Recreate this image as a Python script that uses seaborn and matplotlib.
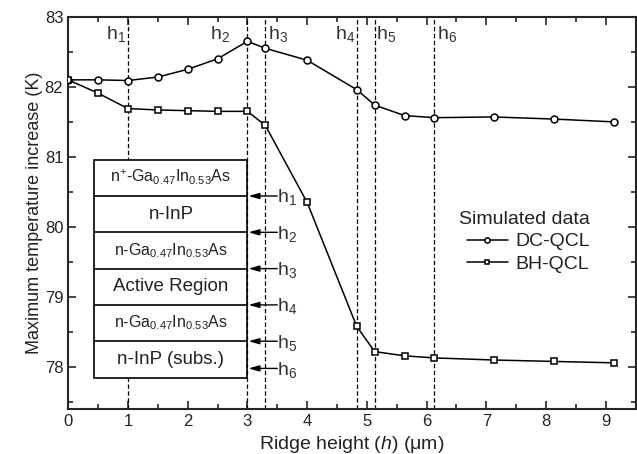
import numpy as np
import pandas as pd
import matplotlib
matplotlib.use("Agg")
import matplotlib.pyplot as plt
import seaborn as sns

# ---- data ----
ridge_height = [0, 0.5, 1.0, 1.5, 2.0, 2.5, 3.0, 3.3, 4.0, 4.83, 5.13, 5.63, 6.13, 7.13, 8.13, 9.13]
dc_qcl = [82.10, 82.10, 82.09, 82.14, 82.25, 82.40, 82.65, 82.55, 82.38, 81.96, 81.74, 81.59, 81.56, 81.57, 81.54, 81.50]
bh_qcl = [82.10, 81.91, 81.69, 81.67, 81.66, 81.65, 81.65, 81.45, 80.35, 78.58, 78.22, 78.16, 78.13, 78.10, 78.08, 78.06]
h_positions = [1.0, 3.0, 3.3, 4.83, 5.13, 6.13]
h_labels = ["h$_1$", "h$_2$", "h$_3$", "h$_4$", "h$_5$", "h$_6$"]
layer_names = ["n$^{+}$-Ga$_{0.47}$In$_{0.53}$As", "n-InP", "n-Ga$_{0.47}$In$_{0.53}$As",
               "Active Region", "n-Ga$_{0.47}$In$_{0.53}$As", "n-InP (subs.)"]
series_names = ["DC-QCL", "BH-QCL"]

sns.set_style("ticks")
plt.rcParams['font.family'] = ['Liberation Sans', 'DejaVu Sans']
plt.rcParams['mathtext.fontset'] = 'custom'
plt.rcParams['mathtext.rm'] = 'Liberation Sans'
plt.rcParams['mathtext.it'] = 'Liberation Sans:italic'

fig = plt.figure(figsize=(6.37, 4.54), dpi=100)
ax = fig.add_axes([0.107, 0.099, 0.891, 0.864])

df = pd.DataFrame({"h": ridge_height * 2,
                   "T": dc_qcl + bh_qcl,
                   "s": [series_names[0]] * len(ridge_height) + [series_names[1]] * len(ridge_height)})

sns.lineplot(data=df[df.s == series_names[0]], x="h", y="T", ax=ax, color="black", lw=1.1,
             marker="o", markersize=5, markerfacecolor="white", markeredgecolor="black",
             markeredgewidth=1.1, label=series_names[0], zorder=4)
sns.lineplot(data=df[df.s == series_names[1]], x="h", y="T", ax=ax, color="black", lw=1.1,
             marker="s", markersize=4.5, markerfacecolor="white", markeredgecolor="black",
             markeredgewidth=1.1, label=series_names[1], zorder=4)

ax.set_xlim(0, 9.5)
ax.set_ylim(77.4, 83)

# vertical dashed lines and labels
label_off = [-0.36, -0.62, 0.04, -0.36, 0.03, 0.04]
for hp, lab, off in zip(h_positions, h_labels, label_off):
    ax.axvline(hp, color="black", lw=0.9, ls=(0, (3.5, 2)), zorder=1)
    ax.text(hp + off, 82.76, lab, fontsize=14, ha="left", va="center", color="#333333")

# inset layer stack
x0, x1 = 0.44, 3.0
ytop, ybot = 80.96, 77.85
n = len(layer_names)
step = (ytop - ybot) / n
ax.add_patch(plt.Rectangle((x0, ybot), x1 - x0, ytop - ybot, facecolor="white",
                           edgecolor="black", lw=1.2, zorder=2))
for i, name in enumerate(layer_names):
    yc = ytop - (i + 0.5) * step
    fs = 13.5 if "Ga" not in name else 11.5
    ax.text((x0 + x1) / 2, yc, name, ha="center", va="center", fontsize=fs, color="#222222", zorder=3)
    if i < n - 1:
        yl = ytop - (i + 1) * step
        ax.plot([x0, x1], [yl, yl], color="black", lw=1.2, zorder=3)

arrow_y = [ytop - (i + 1) * step for i in range(n - 1)] + [ybot + 0.13]
for yl, lab in zip(arrow_y, h_labels):
    ax.annotate("", xy=(x1 + 0.02, yl), xytext=(3.5, yl),
                arrowprops=dict(arrowstyle="-|>,head_length=0.7,head_width=0.2", color="black", lw=1.0,
                                mutation_scale=9, shrinkA=0, shrinkB=0), zorder=3)
    ax.text(3.5, yl - 0.02, lab, ha="left", va="center", fontsize=14, color="#333333", zorder=3)

# ticks
ax.set_xticks(np.arange(0, 10, 1))
ax.set_yticks(np.arange(78, 84, 1))
ax.set_xticks(np.arange(0, 9.6, 0.5), minor=True)
ax.set_yticks(np.arange(77.5, 83.01, 0.5), minor=True)
ax.tick_params(which="both", direction="in", top=True, right=True, width=1.2, labelsize=12,
               labelcolor="#222222")
ax.tick_params(which="major", length=6)
ax.tick_params(which="minor", length=3.5)
for sp in ax.spines.values():
    sp.set_linewidth(1.5)

ax.set_xlabel("Ridge height ($h$) (μm)", fontsize=14, color="#222222")
ax.set_ylabel("Maximum temperature increase (K)", fontsize=13, color="#222222", labelpad=1)

leg = ax.legend(title="Simulated data", frameon=False, fontsize=14, title_fontsize=14,
                loc="upper left", bbox_to_anchor=(0.675, 0.525), handlelength=2.1,
                markerscale=0.75, borderaxespad=0, handletextpad=0.4, labelspacing=0.25)
leg._legend_box.align = "right"
for t in leg.get_texts():
    t.set_color("#222222")
leg.get_title().set_color("#222222")

fig.savefig("out.png", dpi=100)
